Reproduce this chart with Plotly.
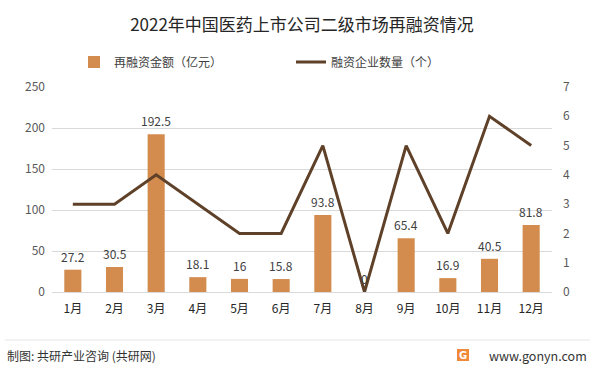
import plotly.graph_objects as go

months = ["1月", "2月", "3月", "4月", "5月", "6月", "7月", "8月", "9月", "10月", "11月", "12月"]
amount = [27.2, 30.5, 192.5, 18.1, 16, 15.8, 93.8, 0, 65.4, 16.9, 40.5, 81.8]
count = [3, 3, 4, 3, 2, 2, 5, 0, 5, 2, 6, 5]
amount_labels = ["27.2", "30.5", "192.5", "18.1", "16", "15.8", "93.8", "0", "65.4", "16.9", "40.5", "81.8"]

W, H = 597, 371
L, R, T, B = 52, 45, 87, 79
PH = H - T - B

def py(p):
    return (H - B - p) / PH

def px(p):
    return (p - L) / (W - L - R)

FONT = "Noto Sans CJK SC"

fig = go.Figure()
fig.add_trace(go.Bar(
    x=months, y=amount, name="再融资金额（亿元）",
    marker=dict(color="#D48C4E", line=dict(width=0)),
    width=0.41,
))
fig.add_trace(go.Scatter(
    x=months, y=count, name="融资企业数量（个）", yaxis="y2",
    mode="lines", line=dict(color="#5E4128", width=3),
))

# data labels as annotations (drawn above all traces), anchored on the data via the axes
for m, v, t in zip(months, amount, amount_labels):
    fig.add_annotation(x=m, y=v, xref="x", yref="y", text=t, showarrow=False,
                       yanchor="bottom", yshift=3,
                       font=dict(size=12, color="#404040", family=FONT))

fig.update_layout(
    width=W, height=H,
    margin=dict(l=L, r=R, t=T, b=B, autoexpand=False),
    paper_bgcolor="white", plot_bgcolor="white",
    font=dict(family=FONT, color="#595959", size=12),
    title=dict(text="2022年中国医药上市公司二级市场再融资情况", x=0.5, xref="paper", xanchor="center",
               y=1 - 25 / H, yanchor="middle", font=dict(size=17, color="#262626", family=FONT)),
    showlegend=True,
    legend=dict(orientation="h", xref="container", yref="container", x=74 / W, y=1 - 62 / H,
                xanchor="left", yanchor="middle",
                font=dict(size=12, color="#404040", family=FONT), entrywidth=172,
                bgcolor="rgba(0,0,0,0)", traceorder="normal"),
    bargap=0.5,
    xaxis=dict(range=[-0.5, 11.5], showgrid=False, showline=False, ticks="",
               tickfont=dict(size=12, color="#262626"), ticklabelstandoff=8),
    yaxis=dict(range=[0, 250], dtick=50, showgrid=True, gridcolor="#D9D9D9", gridwidth=1,
               zeroline=True, zerolinecolor="#D9D9D9", zerolinewidth=1, showline=False,
               tickfont=dict(size=12, color="#595959"), ticklabelstandoff=6),
    yaxis2=dict(range=[0, 7], dtick=1, overlaying="y", side="right", showgrid=False,
                zeroline=False, showline=False, tickfont=dict(size=12, color="#595959"),
                ticklabelstandoff=10),
)

# footer separator
fig.add_shape(type="line", xref="paper", yref="paper", x0=px(5), x1=px(590), y0=py(340), y1=py(340),
              line=dict(color="#E6E6E6", width=1))
fig.add_annotation(text="制图: 共研产业咨询 (共研网)", xref="paper", yref="paper", x=px(5), y=py(355),
                   xanchor="left", yanchor="middle", showarrow=False,
                   font=dict(size=12, color="#333333", family=FONT))
fig.add_annotation(text="www.gonyn.com", xref="paper", yref="paper", x=px(589), y=py(355),
                   xanchor="right", yanchor="middle", showarrow=False,
                   font=dict(size=12.5, color="#333333", family=FONT))
# logo
fig.add_shape(type="rect", xref="paper", yref="paper", x0=px(457), x1=px(469), y0=py(361), y1=py(349),
              fillcolor="#F08A3A", line=dict(width=0))
fig.add_annotation(text="<b>G</b>", xref="paper", yref="paper", x=px(463), y=py(355),
                   xanchor="center", yanchor="middle", showarrow=False,
                   font=dict(size=10, color="white", family="DejaVu Sans"))

fig.write_html("out.html", config={"displayModeBar": False},
               post_script="document.body.style.margin='0';")
